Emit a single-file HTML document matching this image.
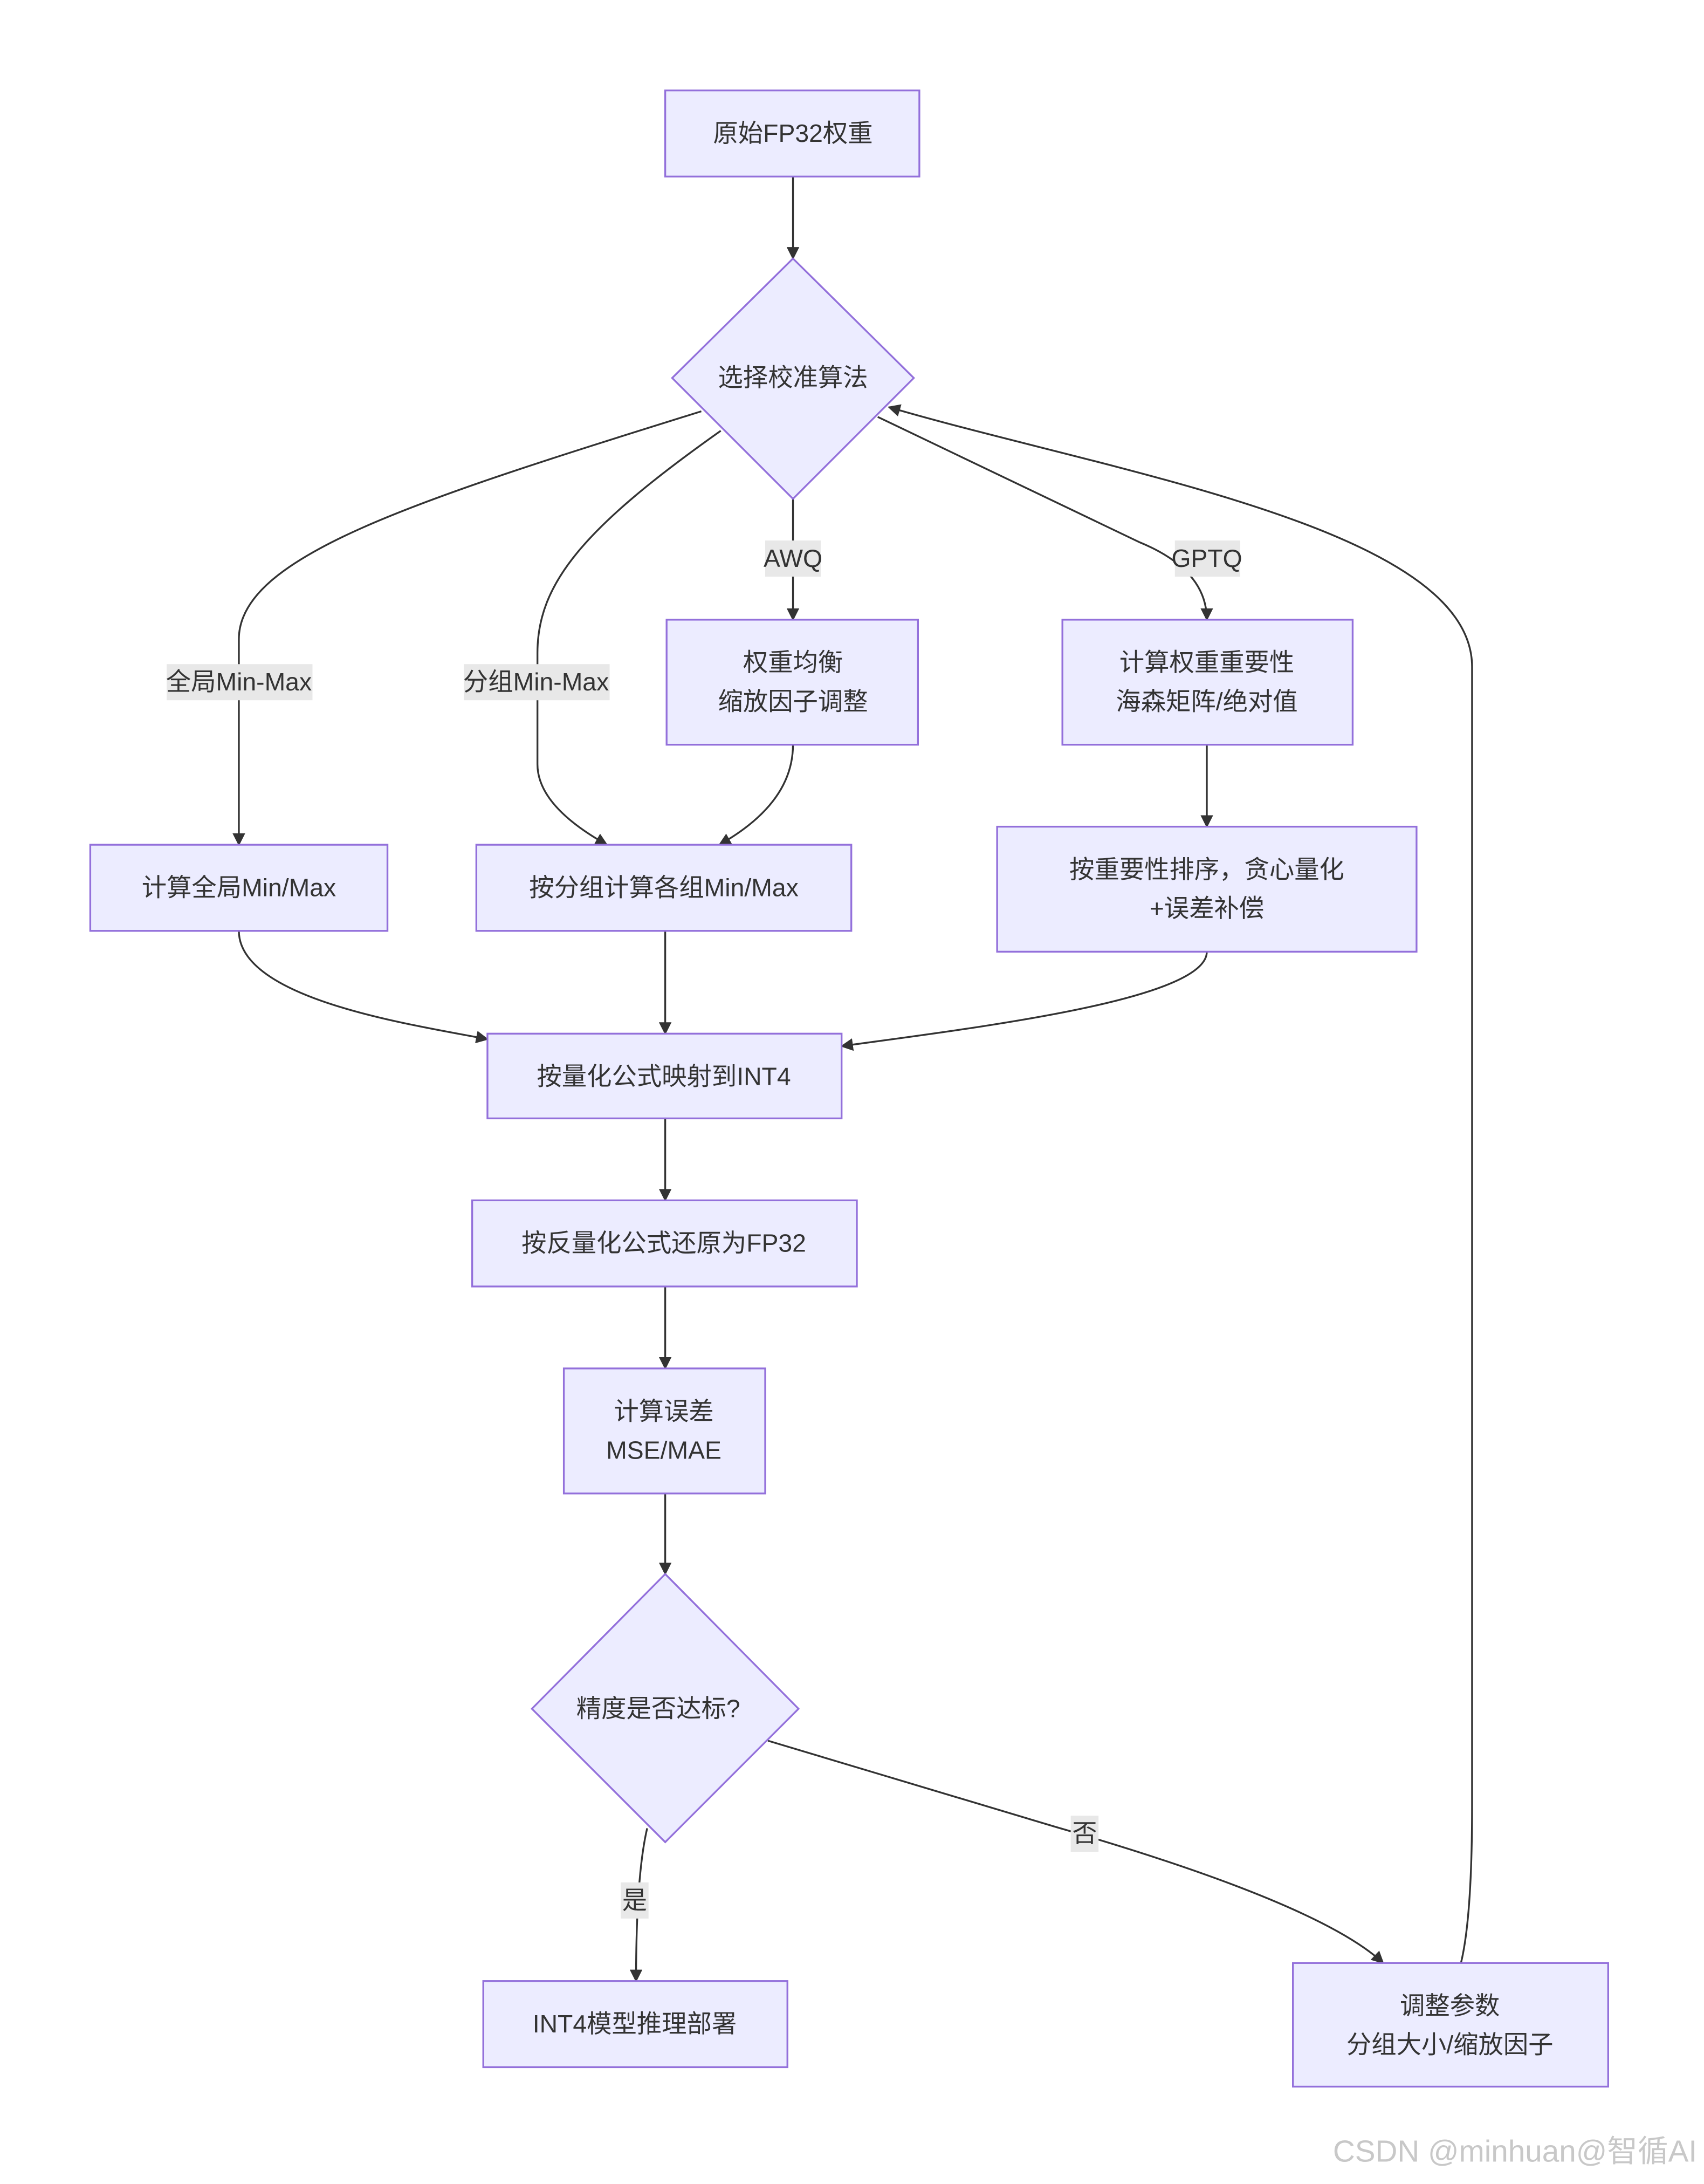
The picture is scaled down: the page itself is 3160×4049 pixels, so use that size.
<!DOCTYPE html>
<html><head><meta charset="utf-8"><style>
html,body{margin:0;padding:0;background:#fff;}
svg{display:block;}
text{font-family:"Liberation Sans","Noto Sans CJK SC",sans-serif;font-size:18px;fill:#333;}
.n{fill:#ECECFF;stroke:#9370DB;stroke-width:1.3;}
.e{fill:none;stroke:#333;stroke-width:1.3;}
.lb{fill:#e8e8e8;}
</style></head><body>
<svg width="3160" height="4049" viewBox="0 0 1227 1572" xmlns="http://www.w3.org/2000/svg">
<defs><marker id="a" viewBox="0 0 10 10" refX="9" refY="5" markerWidth="7" markerHeight="7" orient="auto-start-reverse"><path d="M0,0 L10,5 L0,10 z" fill="#333"/></marker></defs>
<!-- edges -->
<path class="e" marker-end="url(#a)" d="M571,127 L571,186"/>
<path class="e" marker-end="url(#a)" d="M505,296 C300,360 172,400 172,460 L172,608"/>
<path class="e" marker-end="url(#a)" d="M519,310 C420,380 387,420 387,470 L387,550 Q387,580 437,608"/>
<path class="e" marker-end="url(#a)" d="M571,359 L571,446"/>
<path class="e" marker-end="url(#a)" d="M632,300 L820,390 Q869,410 869,446"/>
<path class="e" marker-end="url(#a)" d="M1052,1413 Q1060,1380 1060,1300 L1060,480 C1060,380 800,340 640,293"/>
<path class="e" marker-end="url(#a)" d="M571,536 Q571,578 518,608"/>
<path class="e" marker-end="url(#a)" d="M869,536 L869,595"/>
<path class="e" marker-end="url(#a)" d="M172,670 C172,720 300,738 351,748"/>
<path class="e" marker-end="url(#a)" d="M479,670 L479,744"/>
<path class="e" marker-end="url(#a)" d="M869,685 C869,720 700,740 606,753"/>
<path class="e" marker-end="url(#a)" d="M479,805 L479,864"/>
<path class="e" marker-end="url(#a)" d="M479,926 L479,985"/>
<path class="e" marker-end="url(#a)" d="M479,1075 L479,1133"/>
<path class="e" marker-end="url(#a)" d="M466,1316 Q458,1350 458,1426"/>
<path class="e" marker-end="url(#a)" d="M553,1253 L760,1315 Q950,1370 996,1413"/>
<!-- edge labels -->
<rect class="lb" x="120" y="478" width="105" height="26"/><text x="172" y="497" text-anchor="middle">全局Min-Max</text>
<rect class="lb" x="334" y="478" width="105" height="26"/><text x="386" y="497" text-anchor="middle">分组Min-Max</text>
<rect class="lb" x="551" y="389" width="40" height="26"/><text x="571" y="408" text-anchor="middle">AWQ</text>
<rect class="lb" x="846" y="389" width="47" height="26"/><text x="869" y="408" text-anchor="middle">GPTQ</text>
<rect class="lb" x="447" y="1355" width="20" height="26"/><text x="457" y="1374" text-anchor="middle">是</text>
<rect class="lb" x="771" y="1307" width="20" height="26"/><text x="781" y="1326" text-anchor="middle">否</text>
<!-- nodes -->
<rect class="n" x="479" y="65" width="183" height="62"/><text x="571" y="102" text-anchor="middle">原始FP32权重</text>
<polygon class="n" points="571,186 658,272 571,359 484,272"/><text x="571" y="278" text-anchor="middle">选择校准算法</text>
<rect class="n" x="480" y="446" width="181" height="90"/><text x="571" y="483" text-anchor="middle">权重均衡</text><text x="571" y="511" text-anchor="middle">缩放因子调整</text>
<rect class="n" x="765" y="446" width="209" height="90"/><text x="869" y="483" text-anchor="middle">计算权重重要性</text><text x="869" y="511" text-anchor="middle">海森矩阵/绝对值</text>
<rect class="n" x="65" y="608" width="214" height="62"/><text x="172" y="645" text-anchor="middle">计算全局Min/Max</text>
<rect class="n" x="343" y="608" width="270" height="62"/><text x="478" y="645" text-anchor="middle">按分组计算各组Min/Max</text>
<rect class="n" x="718" y="595" width="302" height="90"/><text x="869" y="632" text-anchor="middle">按重要性排序，贪心量化</text><text x="869" y="660" text-anchor="middle">+误差补偿</text>
<rect class="n" x="351" y="744" width="255" height="61"/><text x="478" y="781" text-anchor="middle">按量化公式映射到INT4</text>
<rect class="n" x="340" y="864" width="277" height="62"/><text x="478" y="901" text-anchor="middle">按反量化公式还原为FP32</text>
<rect class="n" x="406" y="985" width="145" height="90"/><text x="478" y="1022" text-anchor="middle">计算误差</text><text x="478" y="1050" text-anchor="middle">MSE/MAE</text>
<polygon class="n" points="479,1133 575,1230 479,1326 383,1230"/><text x="474" y="1236" text-anchor="middle">精度是否达标?</text>
<rect class="n" x="348" y="1426" width="219" height="62"/><text x="457" y="1463" text-anchor="middle">INT4模型推理部署</text>
<rect class="n" x="931" y="1413" width="227" height="89"/><text x="1044" y="1450" text-anchor="middle">调整参数</text><text x="1044" y="1478" text-anchor="middle">分组大小/缩放因子</text>
<text x="1222" y="1556" text-anchor="end" style="font-size:22px;fill:#c8c8c8;">CSDN @minhuan@智循AI</text>
</svg>
</body></html>
